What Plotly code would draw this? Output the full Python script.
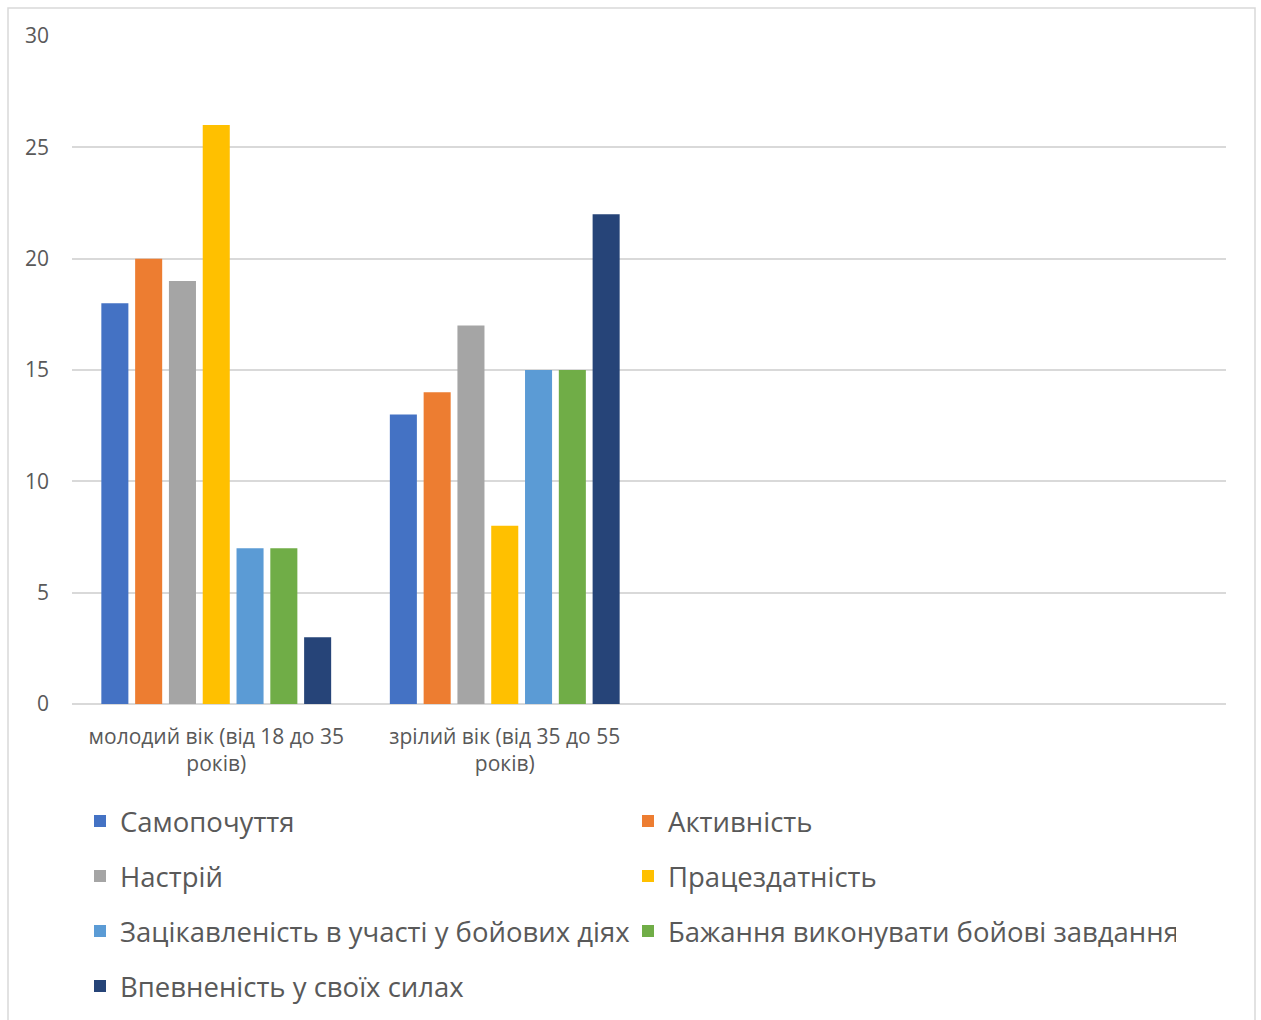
import plotly.graph_objects as go

# Age groups on the category axis (two further slots are left empty)
age_groups = ["молодий вік (від 18 до 35<br>років)", "зрілий вік (від 35 до 55<br>років)"]
group_pos = [0, 1]

# Indicator series
series_names = [
    "Самопочуття",
    "Активність",
    "Настрій",
    "Працездатність",
    "Зацікавленість в участі у бойових діях",
    "Бажання виконувати бойові завдання",
    "Впевненість у своїх силах",
]
series_values = [
    [18, 13],
    [20, 14],
    [19, 17],
    [26, 8],
    [7, 15],
    [7, 15],
    [3, 22],
]
series_colors = ["#4472C4", "#ED7D31", "#A5A5A5", "#FFC000", "#5B9BD5", "#70AD47", "#264478"]

y_ticks = [0, 5, 10, 15, 20, 25, 30]

FONT = "Open Sans"
TEXT = "#595959"
GRID = "#D9D9D9"

fig = go.Figure()
legend_ids = ["legend", "legend", "legend2", "legend2", "legend3", "legend3", "legend4"]
for name, vals, color, lg in zip(series_names, series_values, series_colors, legend_ids):
    fig.add_trace(go.Bar(
        x=group_pos, y=vals, name=name,
        marker=dict(color=color, line=dict(width=0)),
        legend=lg,
    ))

W, H = 1261, 1020
L, R, T, B = 72, 35, 36, 316
pw, ph = W - L - R, H - T - B


def px_x(x):
    return (x - L) / pw


def px_y(y):
    return (H - B - y) / ph


# two legend columns per row; the column step is entrywidth + 45 px
legend_common = dict(
    orientation="h", xanchor="left", yanchor="middle",
    xref="container", yref="container",
    entrywidth=503, entrywidthmode="pixels",
    font=dict(family=FONT, size=27.5, color=TEXT),
    bgcolor="rgba(0,0,0,0)", borderwidth=0,
    itemclick=False, itemdoubleclick=False,
)
rows = [821, 876, 931, 986]
layout_legends = {}
for key, row in zip(["legend", "legend2", "legend3", "legend4"], rows):
    layout_legends[key] = dict(legend_common, x=80 / W, y=1 - row / H)

fig.update_layout(
    width=W, height=H,
    margin=dict(l=L, r=R, t=T, b=B, pad=0),
    paper_bgcolor="white", plot_bgcolor="white",
    barmode="group", bargap=0.18, bargroupgap=0.2,
    showlegend=True,
    font=dict(family=FONT, color=TEXT),
    xaxis=dict(
        range=[-0.5, 3.5], tickvals=group_pos, ticktext=age_groups,
        showgrid=False, zeroline=False, showline=False, ticks="",
        tickfont=dict(family=FONT, size=21, color=TEXT),
        ticklabelstandoff=18, fixedrange=True,
    ),
    yaxis=dict(
        range=[0, 30], tickvals=y_ticks,
        showgrid=True, gridcolor=GRID, gridwidth=1.5,
        zeroline=True, zerolinecolor=GRID, zerolinewidth=1.5,
        showline=False, ticks="",
        tickfont=dict(family=FONT, size=21, color=TEXT),
        ticklabelstandoff=22, fixedrange=True,
    ),
    shapes=[dict(
        type="rect", xref="paper", yref="paper",
        x0=px_x(8), x1=px_x(1255), y0=px_y(1030), y1=px_y(8),
        line=dict(color=GRID, width=1.5), fillcolor="rgba(0,0,0,0)", layer="below",
    )],
    **layout_legends,
)

fig.write_html("out.html")
